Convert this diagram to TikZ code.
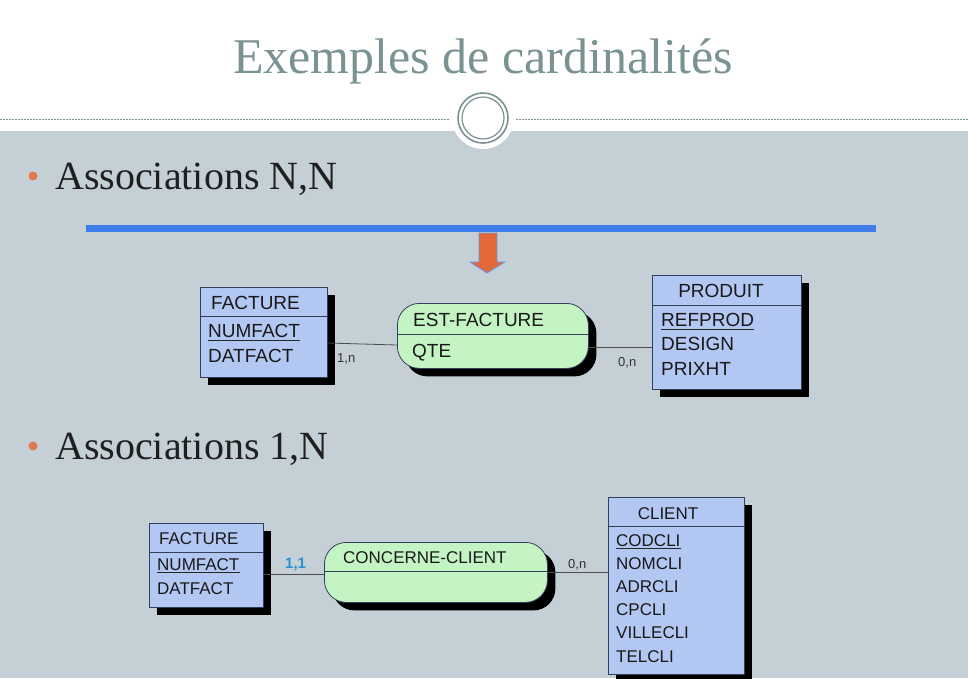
\documentclass[tikz,border=0pt]{standalone}
\usepackage{fontspec}
\setmainfont{Liberation Serif}
\newfontfamily\arialf{Liberation Sans}
\usetikzlibrary{shadows}
\definecolor{bodygray}{HTML}{C4D0D6}
\definecolor{titlec}{HTML}{7A9292}
\definecolor{bulletc}{HTML}{E07850}
\definecolor{bluel}{HTML}{3F7EE8}
\definecolor{arrowc}{HTML}{E2683A}
\definecolor{entfill}{HTML}{B3C7F3}
\definecolor{assfill}{HTML}{C4F4C4}
\definecolor{edgec}{HTML}{34405A}
\definecolor{cardblue}{HTML}{2A90D2}
\begin{document}
\begin{tikzpicture}[x=1pt,y=-1pt,
  shad/.style={general shadow={fill=black, shadow xshift=8pt, shadow yshift=-8pt}},
  entity/.style={shad, draw=edgec, fill=entfill, line width=0.8pt, inner sep=0pt, anchor=north west},
  assoc/.style={shad, draw=edgec, fill=assfill, line width=0.8pt, inner sep=0pt, anchor=north west, rounded corners=22pt},
  divider/.style={draw=edgec, line width=0.8pt},
  big/.style={font=\arialf\fontsize{19}{19}\selectfont, anchor=base west, inner sep=0pt, text=black!90},
  small/.style={font=\arialf\fontsize{17}{17}\selectfont, anchor=base west, inner sep=0pt, text=black!90},
  card/.style={font=\arialf\fontsize{13}{13}\selectfont, anchor=base west, inner sep=0pt, text=black!80},
  link/.style={draw=black!70, line width=0.8pt},
  bullettext/.style={font=\fontsize{40}{40}\selectfont, anchor=base west, inner sep=0pt, text=black!88},
  ul/.style={draw=black!85, line width=0.9pt}
]
\useasboundingbox (0,0) rectangle (968,678);
% background
\fill[white] (0,0) rectangle (968,131);
\fill[bodygray] (0,131) rectangle (968,678);
\draw[titlec, dash pattern=on 2pt off 1pt, line width=0.6pt] (0,119) -- (450,119);
\draw[titlec, dash pattern=on 2pt off 1pt, line width=0.6pt] (516,119) -- (968,119);
\fill[white] (483,118) circle (31);
\draw[titlec, line width=1.6pt] (483,118) circle (25);
\draw[titlec, line width=1.2pt] (483,118) circle (21);
% title
\node[font=\fontsize{50}{50}\selectfont, text=titlec, inner sep=0pt, anchor=base] (title) at (483,73) {Exemples de cardinalités};
% bullets
\fill[bulletc] (33,176) circle (4.5);
\node[bullettext] (b1) at (55,189) {Associations N,N};
\fill[bulletc] (33,446) circle (4.5);
\node[bullettext] (b2) at (55,459) {Associations 1,N};
% blue line and arrow
\draw[bluel, line width=7pt] (86,228) -- (876,228);
\draw[fill=arrowc, draw=bluel!80, line width=0.8pt] (479,233) -- (497,233) -- (497,262) -- (505,262) -- (487,273) -- (470,262) -- (479,262) -- cycle;

% ===== diagram 1 =====
\node[entity, minimum width=127pt, minimum height=90pt] (fact1) at (200,287) {};
\draw[divider] (fact1.west |- 0,316) -- (fact1.east |- 0,316);
\node[big] (f1t) at (211,309) {FACTURE};
\node[big] (f1a) at (208,337) {NUMFACT};
\draw[ul] ([yshift=-3.5pt]f1a.base west) -- ([yshift=-3.5pt]f1a.base east);
\node[big] (f1b) at (208,362) {DATFACT};

\node[assoc, minimum width=191pt, minimum height=65pt] (ef) at (397,303) {};
\draw[divider] (ef.west |- 0,334) -- (ef.east |- 0,334);
\node[big] (eft) at (413,326) {EST-FACTURE};
\node[big] (efa) at (412,357) {QTE};

\node[entity, minimum width=149pt, minimum height=114pt] (prod) at (652,275) {};
\draw[divider] (prod.west |- 0,305) -- (prod.east |- 0,305);
\node[big, anchor=base] (prt) at (721,297) {PRODUIT};
\node[big] (pra) at (661,326) {REFPROD};
\draw[ul] ([yshift=-3.5pt]pra.base west) -- ([yshift=-3.5pt]pra.base east);
\node[big] (prb) at (661,350) {DESIGN};
\node[big] (prc) at (661,375) {PRIXHT};

\draw[link] (fact1.east |- 0,343) -- (ef.west |- 0,345);
\draw[link] (ef.east |- 0,347) -- (prod.west |- 0,347);
\node[card] (c1) at (337,362) {1,n};
\node[card] (c2) at (618,366) {0,n};

% ===== diagram 2 =====
\node[entity, minimum width=114pt, minimum height=84pt] (fact2) at (149,523) {};
\draw[divider] (fact2.west |- 0,552) -- (fact2.east |- 0,552);
\node[small] (f2t) at (159,544) {FACTURE};
\node[small] (f2a) at (157,570) {NUMFACT};
\draw[ul] ([yshift=-2.5pt]f2a.base west) -- ([yshift=-2.5pt]f2a.base east);
\node[small] (f2b) at (157,594) {DATFACT};

\node[assoc, minimum width=223pt, minimum height=60pt] (cc) at (324,542) {};
\draw[divider] (cc.west |- 0,571) -- (cc.east |- 0,571);
\node[small] (cct) at (343,563) {CONCERNE-CLIENT};

\node[entity, minimum width=136pt, minimum height=177pt] (cli) at (608,497) {};
\draw[divider] (cli.west |- 0,526) -- (cli.east |- 0,526);
\node[small, anchor=base] (clt) at (668,519) {CLIENT};
\node[small] (cl1) at (616,546) {CODCLI};
\draw[ul] ([yshift=-2.5pt]cl1.base west) -- ([yshift=-2.5pt]cl1.base east);
\node[small] (cl2) at (616,569) {NOMCLI};
\node[small] (cl3) at (616,592) {ADRCLI};
\node[small] (cl4) at (616,615) {CPCLI};
\node[small] (cl5) at (616,638) {VILLECLI};
\node[small] (cl6) at (616,662) {TELCLI};

\draw[link] (fact2.east |- 0,574) -- (cc.west |- 0,574);
\draw[link] (cc.east |- 0,572) -- (cli.west |- 0,572);
\node[card, font=\arialf\bfseries\fontsize{15}{15}\selectfont, text=cardblue] (c3) at (285,568) {1,1};
\node[card] (c4) at (568,568) {0,n};
\end{tikzpicture}
\end{document}
